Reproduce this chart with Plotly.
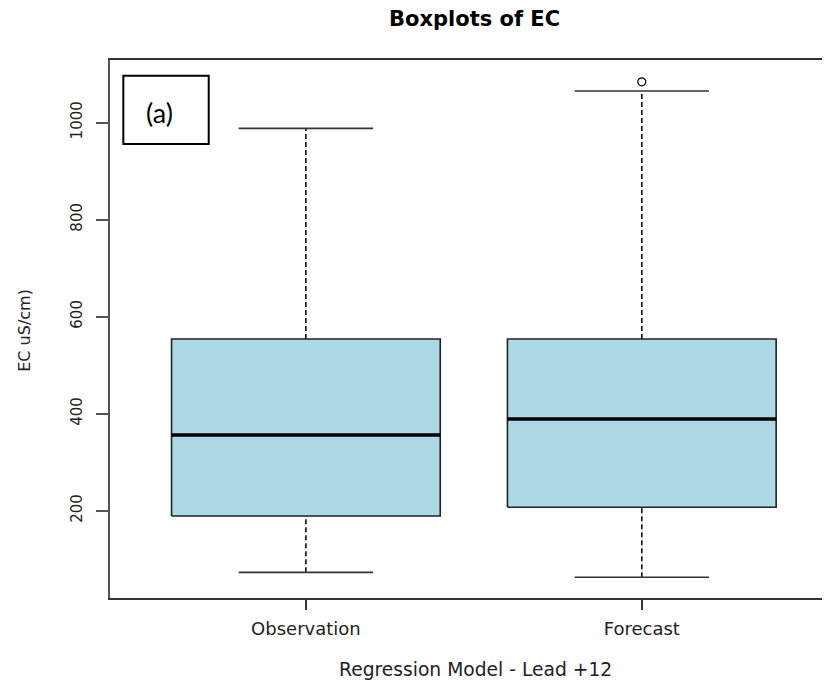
import plotly.graph_objects as go

# ---- data ----
categories = ["Observation", "Forecast"]
positions = [1, 2]
lower_whisker = [73, 63]
q1 = [189, 207]
median = [356, 389]
q3 = [554, 554]
upper_whisker = [988, 1065]
outlier_pos = [2]
outlier_val = [1084]
ytick_vals = [200, 400, 600, 800, 1000]

HALF = 0.4     # half box width
CAP = 0.2      # half cap width
FONT = "DejaVu Sans, Arial, sans-serif"

fig = go.Figure()

for c, lw, a, m, b, uw in zip(positions, lower_whisker, q1, median, q3, upper_whisker):
    # dashed whiskers
    fig.add_trace(go.Scatter(x=[c, c], y=[b, uw], mode="lines",
                             line=dict(color="black", width=1.5, dash="5px,3px"),
                             hoverinfo="skip", showlegend=False))
    fig.add_trace(go.Scatter(x=[c, c], y=[lw, a], mode="lines",
                             line=dict(color="black", width=1.5, dash="5px,3px"),
                             hoverinfo="skip", showlegend=False))
    # caps
    fig.add_trace(go.Scatter(x=[c - CAP, c + CAP], y=[uw, uw], mode="lines",
                             line=dict(color="#333333", width=1.6),
                             hoverinfo="skip", showlegend=False))
    fig.add_trace(go.Scatter(x=[c - CAP, c + CAP], y=[lw, lw], mode="lines",
                             line=dict(color="#333333", width=1.6),
                             hoverinfo="skip", showlegend=False))
    # box
    fig.add_trace(go.Scatter(x=[c - HALF, c + HALF, c + HALF, c - HALF, c - HALF],
                             y=[a, a, b, b, a], mode="lines", fill="toself",
                             fillcolor="#ADD8E6",
                             line=dict(color="#222222", width=1.6),
                             hoverinfo="skip", showlegend=False))
    # median
    fig.add_trace(go.Scatter(x=[c - HALF, c + HALF], y=[m, m], mode="lines",
                             line=dict(color="black", width=3.5),
                             hoverinfo="skip", showlegend=False))

fig.add_trace(go.Scatter(x=outlier_pos, y=outlier_val, mode="markers",
                         marker=dict(symbol="circle-open", size=8,
                                     color="black", line=dict(width=1.2)),
                         hoverinfo="skip", showlegend=False))

# page body has an 8px margin, so the figure is drawn 8px smaller
fig.update_layout(
    width=822, height=676,
    margin=dict(l=102, r=0, t=52, b=86),
    paper_bgcolor="white", plot_bgcolor="white",
    showlegend=False,
    xaxis=dict(range=[0.4168, 2.5603], tickvals=positions, ticktext=categories,
               showline=True, linecolor="#333333", linewidth=1.5, mirror=True,
               ticks="outside", ticklen=10, tickcolor="#333333", tickwidth=1.5,
               showgrid=False, zeroline=False, ticklabelstandoff=4,
               tickfont=dict(family=FONT, size=18, color="#222222")),
    yaxis=dict(range=[20.1, 1128.9], tickvals=ytick_vals,
               showline=True, linecolor="#555555", linewidth=1.5, mirror=False,
               ticks="outside", ticklen=12, tickcolor="#555555", tickwidth=1.5,
               showgrid=False, zeroline=False, tickangle=-90,
               ticklabelstandoff=8,
               tickfont=dict(family=FONT, size=15, color="#222222")),
    annotations=[
        dict(text="<b>Boxplots of EC</b>", xref="paper", yref="paper",
             x=0.5056, y=1.0762, xanchor="center", yanchor="middle",
             showarrow=False, font=dict(family=FONT, size=21, color="black")),
        dict(text="Regression Model - Lead +12", xref="paper", yref="paper",
             x=0.508, y=-0.1338, xanchor="center", yanchor="middle",
             showarrow=False, font=dict(family=FONT, size=18.7, color="#222222")),
        dict(text="EC uS/cm)", xref="paper", yref="paper",
             x=-0.1199, y=0.498, xanchor="center", yanchor="middle", textangle=-90,
             showarrow=False, font=dict(family=FONT, size=16, color="#222222")),
        dict(text="(a)", xref="paper", yref="paper",
             x=0.0694, y=0.9033, xanchor="center", yanchor="middle",
             showarrow=False, font=dict(family="Lato, Open Sans, sans-serif", size=27, color="black")),
    ],
    shapes=[
        dict(type="rect", xref="paper", yref="paper",
             x0=0.0185, x1=0.1371, y0=0.8439, y1=0.9708,
             line=dict(color="black", width=2), fillcolor="rgba(0,0,0,0)"),
    ],
)

fig.write_html("out.html")
